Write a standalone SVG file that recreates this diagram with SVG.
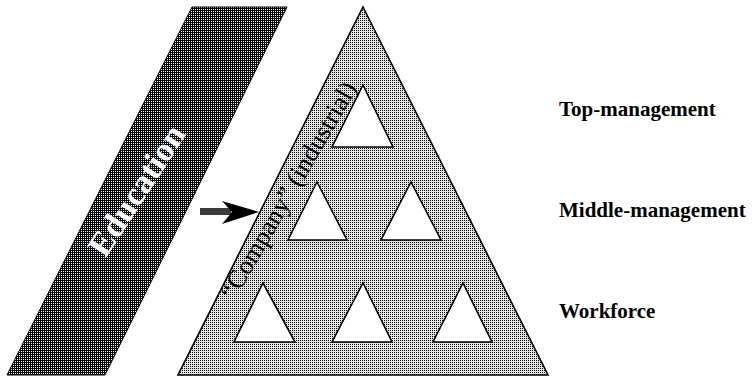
<svg xmlns="http://www.w3.org/2000/svg" width="755" height="379" viewBox="0 0 755 379">
<defs>
<pattern id="light" width="2" height="2" patternUnits="userSpaceOnUse">
<rect width="2" height="2" fill="#e4e4e4"/>
<rect width="1" height="1" fill="#000000"/>
</pattern>
<pattern id="dark" width="2" height="2" patternUnits="userSpaceOnUse">
<rect width="2" height="2" fill="#000000"/>
<rect x="1" y="1" width="1" height="1" fill="#ffffff"/>
</pattern>
<style>
.lbl{font-family:"Liberation Serif","Times New Roman",serif;font-weight:bold;font-size:21px;fill:#000}
.edu{font-family:"Liberation Serif","Times New Roman",serif;font-weight:bold;font-size:34px;fill:#fff}
.comp{font-family:"Liberation Serif","Times New Roman",serif;font-size:26px;fill:#000}
.hole{fill:#fff;stroke:#000;stroke-width:1.6;stroke-linejoin:miter}
</style>
</defs>
<rect width="755" height="379" fill="#fff"/>
<g id="education">
<polygon points="192,7 287,7 105,375 7,375" fill="url(#dark)" stroke="#000" stroke-width="1"/>
<text class="edu" x="0" y="0" text-anchor="middle" dy="0.35em" transform="translate(136,190) rotate(-57)">Education</text>
</g>
<g id="company">
<polygon points="363,7 548,375 178,375" fill="url(#light)" stroke="#000" stroke-width="1.6"/>
<polygon class="hole" points="363,85 393,147 332,147"/>
<polygon class="hole" points="317,182 347,240 288,240"/>
<polygon class="hole" points="411,182 441,240 381,240"/>
<polygon class="hole" points="263,283 295,342 234,342"/>
<polygon class="hole" points="363,283 392,342 332,342"/>
<polygon class="hole" points="463,283 492,342 433,342"/>
<text class="comp" x="0" y="0" text-anchor="middle" dy="0.35em" transform="translate(288,190) rotate(-60)">“Company” (industrial)</text>
</g>
<g id="connectors">
<polygon points="200,208 231,208 231,215 200,215" fill="#3a3a3a"/>
<polygon points="222,201 259,212 222,224 232,212" fill="#000"/>
</g>
<g id="labels">
<text class="lbl" x="559" y="116">Top-management</text>
<text class="lbl" x="559" y="217">Middle-management</text>
<text class="lbl" x="559" y="318">Workforce</text>
</g>
</svg>
